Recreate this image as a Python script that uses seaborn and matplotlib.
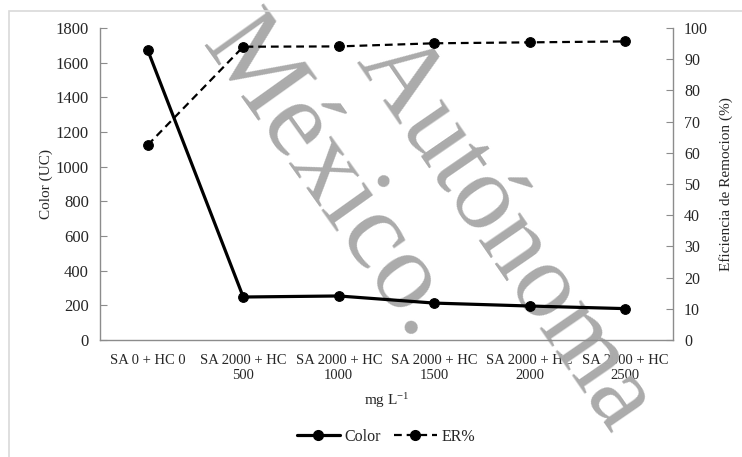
import numpy as np
import matplotlib
matplotlib.use("Agg")
import matplotlib.pyplot as plt
import seaborn as sns
from matplotlib.lines import Line2D
from matplotlib.patches import Rectangle

categories = ["SA 0 + HC 0", "SA 2000 + HC\n500", "SA 2000 + HC\n1000",
              "SA 2000 + HC\n1500", "SA 2000 + HC\n2000", "SA 2000 + HC\n2500"]
color_uc = [1672, 248, 254, 213, 196, 181]
er_pct = [62.5, 94.0, 94.1, 95.1, 95.4, 95.7]
left_ticks = list(range(0, 1801, 200))
right_ticks = list(range(0, 101, 10))

sns.set_style("white")
plt.rcParams["font.family"] = ["Liberation Serif", "DejaVu Serif"]
plt.rcParams["mathtext.fontset"] = "stix"

SPINE = "#8c8c8c"
WM = "#ababab"

fig = plt.figure(figsize=(7.42, 4.57), dpi=100)
fig.patch.set_facecolor("white")
ax = fig.add_axes([100 / 742, 117 / 457, 573 / 742, 312 / 457])
ax.set_facecolor("none")

# marco gris claro del documento original
fig.patches.append(Rectangle((9 / 742, -0.05), 1.2, (457 - 11) / 457 + 0.05,
                             transform=fig.transFigure, fill=False,
                             edgecolor="#d9d9d9", linewidth=1.2))

x = np.arange(len(categories))
sns.lineplot(x=x, y=color_uc, ax=ax, color="black", linewidth=2.3,
             marker="o", markersize=7, markeredgecolor="black", zorder=3)

ax2 = ax.twinx()
sns.lineplot(x=x, y=er_pct, ax=ax2, color="black", linewidth=1.6,
             linestyle=(0, (3.5, 2.2)), marker="o", markersize=7,
             markeredgecolor="black", zorder=3)

ax.set_xlim(-0.5, len(categories) - 0.5)
ax.set_ylim(0, 1800)
ax2.set_ylim(0, 100)
ax.set_yticks(left_ticks)
ax2.set_yticks(right_ticks)
ax.set_xticks(x)
ax.set_xticklabels(categories, fontsize=10.5, linespacing=1.25)
ax.set_xticks(np.arange(0.5, len(categories) - 1, 1.0), minor=True)
ax.tick_params(axis="x", which="major", length=0, pad=10)
ax.tick_params(axis="x", which="minor", direction="in", length=5, color=SPINE)
ax.tick_params(axis="y", direction="in", length=5, color=SPINE, labelsize=12, pad=8)
ax2.tick_params(axis="y", direction="in", length=5, color=SPINE, labelsize=11.5, pad=8)

for a in (ax, ax2):
    a.spines["top"].set_visible(False)
    for s in ("left", "right", "bottom"):
        a.spines[s].set_color(SPINE)
        a.spines[s].set_linewidth(1.0)
ax.spines["right"].set_visible(False)
ax2.spines["left"].set_visible(False)
ax2.spines["bottom"].set_visible(False)

ax.set_ylabel("Color (UC)", fontsize=11, labelpad=2)
ax2.set_ylabel("Eficiencia de Remocion (%)", fontsize=11, labelpad=8)
ax.set_xlabel("mg L$^{\\mathregular{-1}}$", fontsize=11, labelpad=6)

# marca de agua
ax.text(200 / 742, 1 - 45 / 457, "México.", transform=fig.transFigure,
        fontsize=80, color=WM, rotation=-54.5, rotation_mode="anchor",
        ha="left", va="baseline", zorder=1, clip_on=False)
ax.text(355 / 742, 1 - 62 / 457, "Autónoma", transform=fig.transFigure,
        fontsize=77, color=WM, rotation=-55.5, rotation_mode="anchor",
        ha="left", va="baseline", zorder=1, clip_on=False)

handles = [
    Line2D([], [], color="black", linewidth=2.3, marker="o", markersize=7),
    Line2D([], [], color="black", linewidth=1.6, linestyle=(0, (3.5, 2.2)),
           marker="o", markersize=7),
]
fig.legend(handles, ["Color", "ER%"], loc="center", bbox_to_anchor=(386 / 742, 1 - 437 / 457),
           ncol=2, frameon=False, fontsize=11.5, handlelength=2.7,
           handletextpad=0.3, columnspacing=0.8)

fig.savefig("out.png", dpi=100)
